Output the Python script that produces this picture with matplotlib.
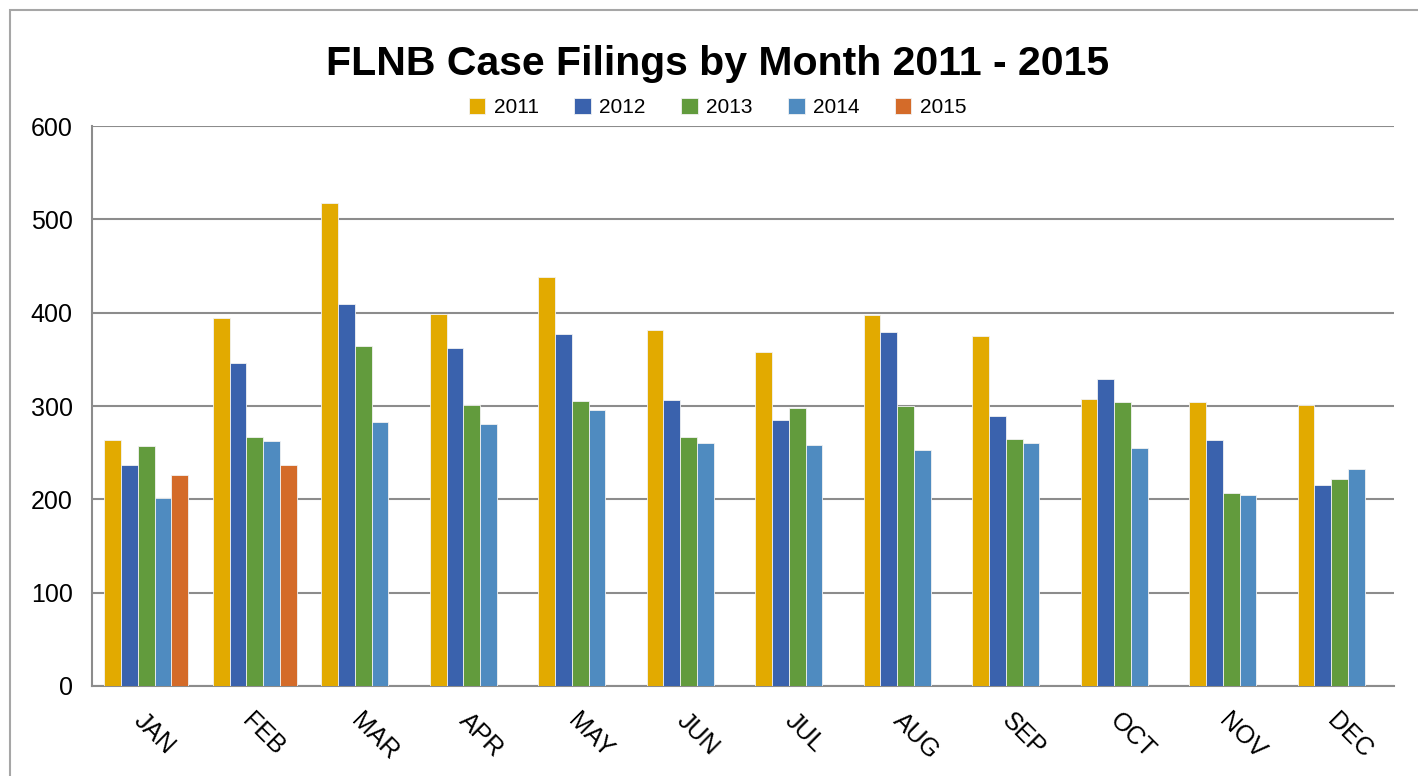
import matplotlib.pyplot as plt
import numpy as np
from matplotlib.patches import Rectangle

months = ["JAN", "FEB", "MAR", "APR", "MAY", "JUN",
          "JUL", "AUG", "SEP", "OCT", "NOV", "DEC"]
years = ["2011", "2012", "2013", "2014", "2015"]

filings_2011 = [264, 394, 517, 399, 438, 381, 358, 397, 375, 308, 304, 301]
filings_2012 = [237, 346, 409, 362, 377, 306, 285, 379, 289, 329, 264, 215]
filings_2013 = [257, 267, 364, 301, 305, 267, 298, 300, 265, 304, 207, 222]
filings_2014 = [201, 262, 283, 281, 296, 260, 258, 253, 260, 255, 205, 232]
filings_2015 = [226, 237]

series = [filings_2011, filings_2012, filings_2013, filings_2014, filings_2015]
colors = ["#E2AA00", "#3A62AD", "#629B3D", "#4F8BC0", "#D46B29"]

plt.rcParams["font.family"] = ["Liberation Sans", "DejaVu Sans"]

fig = plt.figure(figsize=(14.18, 7.76), dpi=100)
ax = fig.add_axes([0.0649, 0.116, 0.9181, 0.7216])

x = np.arange(len(months))
width = 0.155
for i, (vals, year) in enumerate(zip(series, years)):
    pos = x[: len(vals)] - 2 * width + i * width
    ax.bar(pos, vals, width, color=colors[i], label=year,
           edgecolor="#f2f2f2", linewidth=0.6, zorder=3)

ax.set_xlim(-0.5, len(months) - 0.5)
ax.set_ylim(0, 600)
ax.set_yticks(range(0, 601, 100))
ax.yaxis.grid(True, color="#8c8c8c", linewidth=1.5, zorder=0)
ax.set_axisbelow(True)
ax.tick_params(axis="y", length=0, pad=14, labelsize=18)
ax.tick_params(axis="x", length=0, pad=16, labelsize=18)
ax.set_xticks(x)
ax.set_xticklabels(months, rotation=-45, ha="left", va="top",
                   rotation_mode="anchor")

for side in ["top", "right"]:
    ax.spines[side].set_visible(False)
for side in ["left", "bottom"]:
    ax.spines[side].set_color("#8c8c8c")
    ax.spines[side].set_linewidth(1.5)

fig.text(0.506, 0.917, "FLNB Case Filings by Month 2011 - 2015",
         ha="center", va="center", fontsize=29.5, fontweight="bold")

fig.legend(loc="center", bbox_to_anchor=(0.506, 0.861), ncol=5,
           frameon=False, fontsize=15, handlelength=0.8, handleheight=0.8,
           handletextpad=0.4, columnspacing=1.7)

fig.patches.append(Rectangle((10 / 1418, -0.05), 1.1, 0.05 + 1 - 10 / 776,
                             transform=fig.transFigure, fill=False,
                             edgecolor="#a6a6a6", linewidth=1.5))

fig.savefig("out.png", dpi=100)
